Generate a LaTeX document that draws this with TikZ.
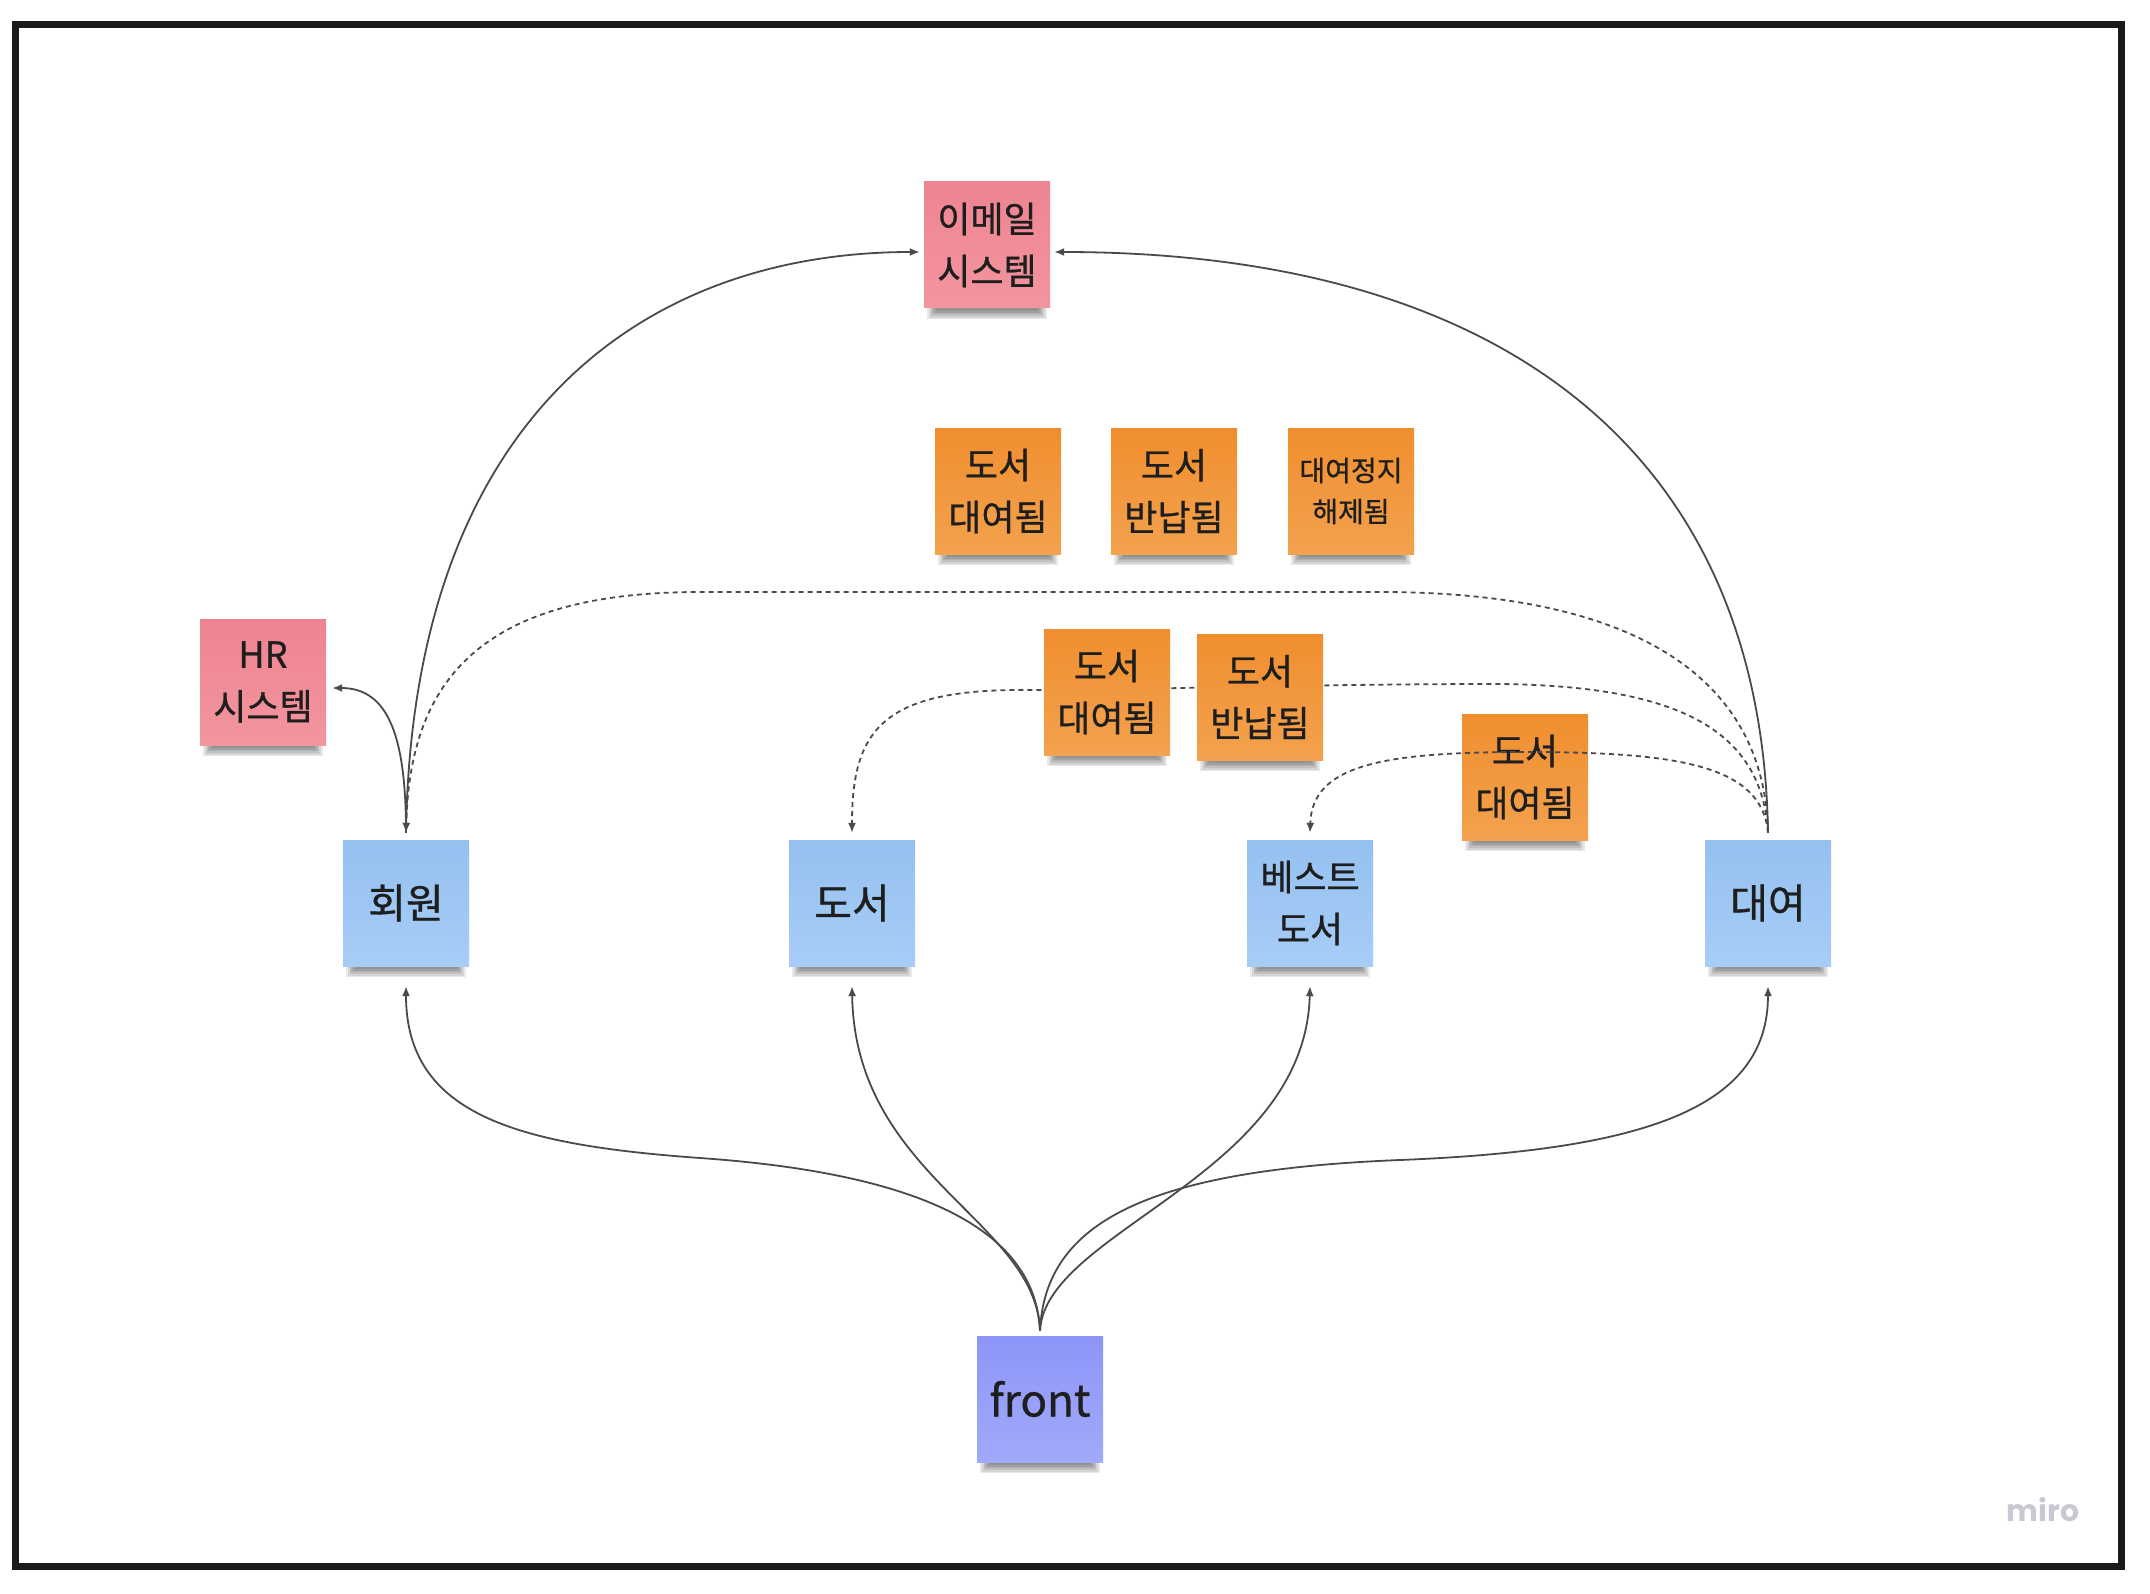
\documentclass[tikz,border=0pt]{standalone}
\usepackage{fontspec}
\setmainfont{Noto Sans CJK KR}[FakeBold=0.8]
\newfontfamily\mirofont{Poppins}
\usetikzlibrary{arrows.meta}
\pgfdeclarelayer{bg}
\pgfsetlayers{bg,main}
\definecolor{pinkT}{HTML}{EE8491}
\definecolor{pinkB}{HTML}{F2959F}
\definecolor{orangeT}{HTML}{F08E2F}
\definecolor{orangeB}{HTML}{F3A24E}
\definecolor{blueT}{HTML}{95C0EF}
\definecolor{blueB}{HTML}{A7CDF7}
\definecolor{purpT}{HTML}{8D96F7}
\definecolor{purpB}{HTML}{A1A9FA}
\definecolor{framecol}{HTML}{1A1A1A}
\definecolor{linecol}{HTML}{4A4A4A}
\definecolor{textcol}{HTML}{1E1E1E}
\definecolor{mirocol}{HTML}{C8C8D6}
\tikzset{
  note/.style={minimum width=126pt, minimum height=126pt, inner sep=0pt,
    align=center, text=textcol, font=\fontsize{36}{52}\selectfont},
  pinknote/.style={note, top color=pinkT, bottom color=pinkB},
  orangenote/.style={note, top color=orangeT, bottom color=orangeB},
  bluenote/.style={note, top color=blueT, bottom color=blueB},
  frontnote/.style={note, top color=purpT, bottom color=purpB, font=\fontsize{44}{50}\selectfont},
  smalltext/.style={font=\fontsize{28}{41}\selectfont},
  bigtext/.style={font=\fontsize{41}{52}\selectfont},
  conn/.style={line width=1.8pt, draw=linecol},
  dconn/.style={conn, dash pattern=on 5pt off 4pt},
  tipend/.style={-{Latex[length=10pt,width=8pt]}},
  shadowpiece/.style={fill=black, opacity=0.085}
}
\newcommand\notesh[1]{%
  \foreach \k in {0,...,5}{%
    \fill[shadowpiece] ([xshift={12-1.7*\k},yshift=12]#1.south west) rectangle ([xshift={-12+1.7*\k},yshift={-3-1.6*\k}]#1.south east);}}
\begin{document}
\begin{tikzpicture}[x=1pt,y=1pt]
\useasboundingbox (0,0) rectangle (2150,-1594);
\begin{pgfonlayer}{bg}
\fill[white] (0,0) rectangle (2150,-1594);
\end{pgfonlayer}
\draw[line width=7pt, draw=framecol] (15,-25) rectangle (2121,-1566);

% nodes
\node[pinknote] (email) at (987,-245) {이메일\\시스템};
\node[orangenote] (oa) at (998,-491) {도서\\대여됨};
\node[orangenote] (ob) at (1174,-491) {도서\\반납됨};
\node[orangenote, smalltext] (oc) at (1351,-491) {대여정지\\해제됨};
\node[pinknote] (hr) at (263,-682) {HR\\시스템};
\node[orangenote] (ma) at (1107,-692) {도서\\대여됨};
\node[orangenote] (mb) at (1260,-697) {도서\\반납됨};
\node[orangenote] (ra) at (1525,-777) {도서\\대여됨};
\node[bluenote, bigtext] (hoe) at (406,-903) {회원};
\node[bluenote, bigtext] (dos) at (852,-903) {도서};
\node[bluenote] (best) at (1310,-903) {베스트\\도서};
\node[bluenote, bigtext] (dae) at (1768,-903) {대여};
\node[frontnote] (front) at (1040,-1399) {front};
\node[text=mirocol, font=\mirofont\fontsize{30}{30}\selectfont\bfseries] (miro) at (2043,-1510) {miro};

% anchor points
\coordinate (hoeT) at ([yshift=7pt]hoe.north);
\coordinate (dosT) at ([yshift=7pt]dos.north);
\coordinate (bestT) at ([yshift=7pt]best.north);
\coordinate (daeT) at ([yshift=7pt]dae.north);
\coordinate (hoeB) at ([yshift=-20pt]hoe.south);
\coordinate (dosB) at ([yshift=-20pt]dos.south);
\coordinate (bestB) at ([yshift=-20pt]best.south);
\coordinate (daeB) at ([yshift=-20pt]dae.south);
\coordinate (frontT) at ([yshift=5pt]front.north);
\coordinate (emailW) at ([xshift=-4pt,yshift=-7pt]email.west);
\coordinate (emailE) at ([xshift=4pt,yshift=-7pt]email.east);
\coordinate (hrE) at ([xshift=6pt,yshift=-6pt]hr.east);

\begin{pgfonlayer}{bg}
% shadows
\foreach \n in {email,oa,ob,oc,hr,ma,mb,ra,hoe,dos,best,dae,front}{\notesh{\n}}
% solid to email
\draw[conn,tipend] (hoeT) .. controls +(6,412) and +(-280,0) .. (emailW);
\draw[conn,tipend] (daeT) .. controls +(-6,382) and +(446,0) .. (emailE);
% to HR
\draw[conn,tipend] (hoeT) .. controls +(0,92) and +(58,0) .. (hrE);
% dashed dae -> hoe
\draw[dconn,tipend] (daeT) .. controls +(-3,152) and +(260,0) .. (1380,-592)
   -- (700,-592) .. controls +(-220,0) and +(4,152) .. (hoeT);
% dashed dae -> dos
\draw[dconn,tipend] (daeT) .. controls +(-6,102) and +(180,-2) .. (1500,-684)
   .. controls (1300,-684) and (1150,-690) .. (1020,-690)
   .. controls +(-140,0) and +(0,100) .. (dosT);
% front -> blue notes
\draw[conn,tipend] (frontT) .. controls +(-5,110) and +(200,-14) .. (700,-1158)
   .. controls +(-180,13) and +(0,-130) .. (hoeB);
\draw[conn,tipend] (frontT) .. controls +(-4,110) and +(3,-190) .. (dosB);
\draw[conn,tipend] (frontT) .. controls +(5,100) and +(-5,-190) .. (bestB);
\draw[conn,tipend] (frontT) .. controls +(5,110) and +(-250,-10) .. (1400,-1160)
   .. controls +(250,10) and +(0,-120) .. (daeB);
\end{pgfonlayer}
% dashed dae -> best (drawn over the note)
\draw[dconn,tipend] (daeT) .. controls +(-6,67) and +(155,0) .. (1525,-752)
   .. controls +(-145,0) and +(2,67) .. (bestT);
\end{tikzpicture}
\end{document}
